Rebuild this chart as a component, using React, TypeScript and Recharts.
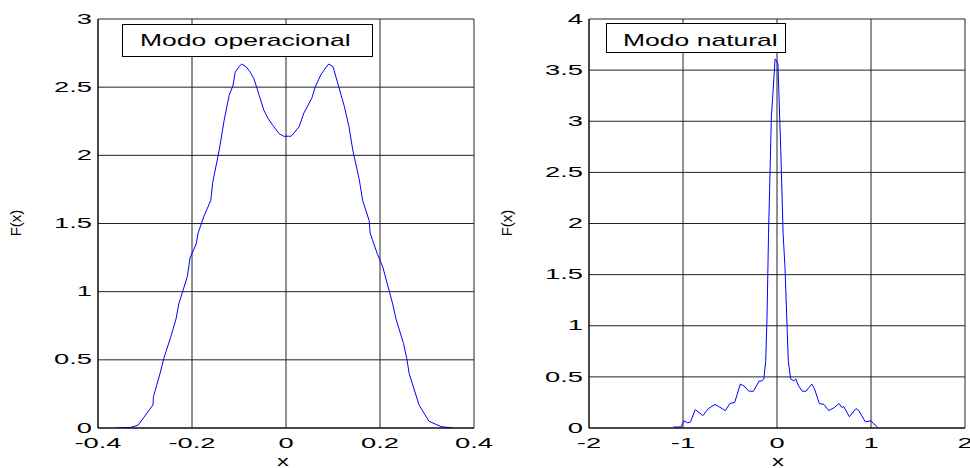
import React from 'react';
import { LineChart, Line, XAxis, YAxis, CartesianGrid } from 'recharts';

// ---------- data ----------
const opX = [-0.36, -0.33, -0.315, -0.302, -0.283, -0.282, -0.268, -0.26, -0.245, -0.234, -0.228, -0.22, -0.21, -0.204, -0.191, -0.187, -0.175, -0.16, -0.156, -0.142, -0.132, -0.121, -0.113, -0.108, -0.1, -0.094, -0.085, -0.076, -0.068, -0.057, -0.047, -0.038, -0.028, -0.015, -0.005, 0.005, 0.011, 0.028, 0.038, 0.055, 0.062, 0.074, 0.084, 0.091, 0.1, 0.11, 0.124, 0.134, 0.142, 0.156, 0.163, 0.177, 0.179, 0.194, 0.206, 0.22, 0.227, 0.234, 0.25, 0.257, 0.262, 0.283, 0.304, 0.33, 0.355];
const opY = [0, 0.005, 0.02, 0.08, 0.17, 0.23, 0.4, 0.51, 0.67, 0.8, 0.91, 1.0, 1.11, 1.25, 1.35, 1.43, 1.55, 1.67, 1.8, 2.04, 2.25, 2.44, 2.51, 2.61, 2.65, 2.67, 2.65, 2.61, 2.56, 2.44, 2.33, 2.27, 2.22, 2.16, 2.14, 2.14, 2.14, 2.21, 2.31, 2.42, 2.5, 2.59, 2.64, 2.67, 2.65, 2.53, 2.36, 2.21, 2.04, 1.82, 1.67, 1.52, 1.43, 1.28, 1.18, 1.0, 0.91, 0.8, 0.62, 0.51, 0.4, 0.17, 0.05, 0.01, 0];

const natX = [-1.1, -1.02, -0.99, -0.95, -0.92, -0.87, -0.84, -0.79, -0.73, -0.66, -0.62, -0.55, -0.5, -0.45, -0.39, -0.35, -0.3, -0.25, -0.19, -0.16, -0.14, -0.12, -0.106, -0.09, -0.06, -0.02, -0.01, 0.01, 0.04, 0.065, 0.085, 0.11, 0.12, 0.145, 0.18, 0.2, 0.23, 0.27, 0.31, 0.37, 0.4, 0.45, 0.5, 0.55, 0.61, 0.66, 0.69, 0.71, 0.77, 0.84, 0.87, 0.94, 1.0, 1.03, 1.07];
const natY = [0.01, 0.01, 0.07, 0.05, 0.06, 0.18, 0.16, 0.12, 0.19, 0.23, 0.21, 0.17, 0.24, 0.25, 0.43, 0.41, 0.36, 0.36, 0.46, 0.46, 0.48, 0.66, 1.09, 1.9, 3.04, 3.61, 3.6, 3.56, 2.72, 1.9, 1.57, 0.92, 0.66, 0.48, 0.46, 0.48, 0.41, 0.36, 0.36, 0.43, 0.38, 0.24, 0.23, 0.17, 0.2, 0.24, 0.2, 0.21, 0.11, 0.19, 0.17, 0.06, 0.07, 0.04, 0.01];

const opXTicks = [-0.4, -0.2, 0, 0.2, 0.4];
const opYTicks = [0, 0.5, 1, 1.5, 2, 2.5, 3];
const natXTicks = [-2, -1, 0, 1, 2];
const natYTicks = [0, 0.5, 1, 1.5, 2, 2.5, 3, 3.5, 4];

const opTitle = 'Modo operacional';
const natTitle = 'Modo natural';
const xLabel = 'x';
const yLabel = 'F(x)';

const opData = opX.map((x, i) => ({ x, y: opY[i] }));
const natData = natX.map((x, i) => ({ x, y: natY[i] }));

// ---------- styles ----------
const FONT = "'Liberation Sans', Arial, Helvetica, sans-serif";
const STRETCH = 1.95;

const XTick = (props: any) => {
  const { x, y, payload } = props;
  return (
    <text
      x={0}
      y={0}
      transform={`translate(${x},${y}) scale(${STRETCH},1)`}
      textAnchor="middle"
      dy="0.71em"
      fontSize={14}
      fontFamily={FONT}
      fill="#000"
    >
      {String(payload.value)}
    </text>
  );
};

const YTick = (props: any) => {
  const { x, y, payload } = props;
  return (
    <text
      x={0}
      y={0}
      transform={`translate(${x},${y}) scale(${STRETCH},1)`}
      textAnchor="end"
      dy="0.33em"
      fontSize={14}
      fontFamily={FONT}
      fill="#000"
    >
      {String(payload.value)}
    </text>
  );
};

type PanelProps = {
  data: { x: number; y: number }[];
  xTicks: number[];
  yTicks: number[];
  left: number;
  width: number;
  yAxisWidth: number;
  rightMargin: number;
};

const Panel = ({ data, xTicks, yTicks, left, width, yAxisWidth, rightMargin }: PanelProps) => (
  <div style={{ position: 'absolute', left, top: 0 }}>
    <LineChart
      width={width}
      height={468}
      data={data}
      margin={{ top: 19, right: rightMargin, bottom: 0, left: 0 }}
      style={{ overflow: 'visible' }}
    >
      <CartesianGrid stroke="#222" strokeWidth={1} horizontal vertical />
      <XAxis
        dataKey="x"
        type="number"
        domain={[xTicks[0], xTicks[xTicks.length - 1]]}
        ticks={xTicks}
        allowDataOverflow
        height={40}
        tickSize={0}
        tickMargin={10}
        tickLine={false}
        axisLine={{ stroke: '#000' }}
        tick={<XTick />}
        interval={0}
      />
      <YAxis
        dataKey="y"
        type="number"
        domain={[yTicks[0], yTicks[yTicks.length - 1]]}
        ticks={yTicks}
        allowDataOverflow
        width={yAxisWidth}
        tickSize={0}
        tickMargin={6}
        tickLine={false}
        axisLine={{ stroke: '#000' }}
        tick={<YTick />}
        interval={0}
      />
      <Line
        type="linear"
        dataKey="y"
        stroke="#0000ff"
        strokeWidth={1}
        dot={false}
        isAnimationActive={false}
      />
    </LineChart>
  </div>
);

export default function App() {
  return (
    <div style={{ position: 'absolute', left: 0, top: 0, width: 970, height: 468, background: '#fff', overflow: 'hidden' }}>
      <style>{`.recharts-surface { overflow: visible; } .recharts-wrapper { overflow: visible; }`}</style>
      <Panel data={opData} xTicks={opXTicks} yTicks={opYTicks} left={0} width={490} yAxisWidth={98} rightMargin={16} />
      <Panel data={natData} xTicks={natXTicks} yTicks={natYTicks} left={490} width={480} yAxisWidth={99} rightMargin={5} />
      <svg
        width={970}
        height={468}
        style={{ position: 'absolute', left: 0, top: 0, pointerEvents: 'none' }}
      >
        <rect x={122.5} y={24.5} width={250} height={32} fill="#fff" stroke="#000" strokeWidth={1} />
        <text transform={`translate(140,46) scale(1.56,1)`} fontSize={17} fontFamily={FONT} fill="#000">
          {opTitle}
        </text>
        <rect x={606.5} y={23.5} width={179} height={29} fill="#fff" stroke="#000" strokeWidth={1} />
        <text transform={`translate(623,46) scale(1.56,1)`} fontSize={17} fontFamily={FONT} fill="#000">
          {natTitle}
        </text>
        <text transform={`translate(283,466) scale(1.7,1)`} textAnchor="middle" fontSize={14} fontFamily={FONT} fill="#000">
          {xLabel}
        </text>
        <text transform={`translate(778,466) scale(1.7,1)`} textAnchor="middle" fontSize={14} fontFamily={FONT} fill="#000">
          {xLabel}
        </text>
        <text transform={`translate(21,223) rotate(-90)`} textAnchor="middle" fontSize={15} fontFamily={FONT} fill="#000">
          {yLabel}
        </text>
        <text transform={`translate(512,223) rotate(-90)`} textAnchor="middle" fontSize={15} fontFamily={FONT} fill="#000">
          {yLabel}
        </text>
      </svg>
    </div>
  );
}
